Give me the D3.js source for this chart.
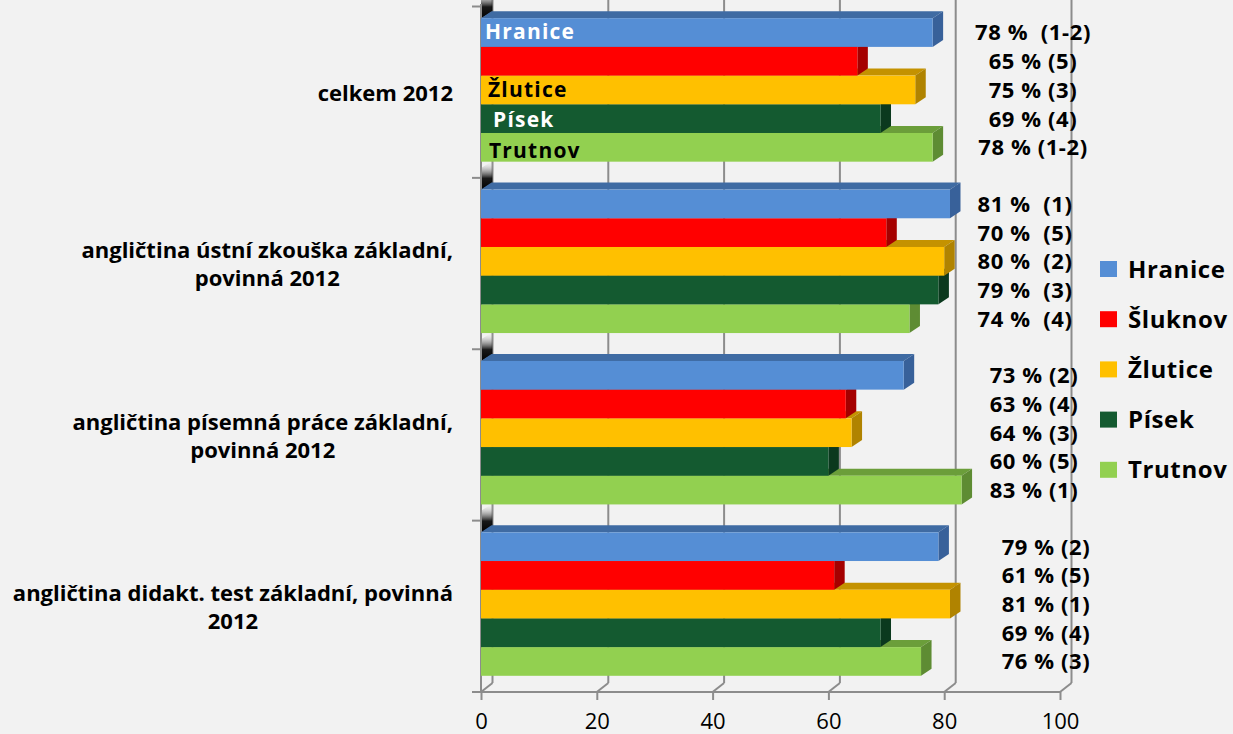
<!DOCTYPE html>
<html>
<head>
<meta charset="utf-8">
<script src="https://cdn.jsdelivr.net/npm/d3@7"></script>
<style>
  html, body { margin: 0; padding: 0; background: #f2f2f2; }
  svg { display: block; }
  text { font-family: "Open Sans", "DejaVu Sans", sans-serif; font-weight: bold; fill: #000; }
</style>
</head>
<body>
<svg id="chart" width="1233" height="734"></svg>
<script>
// ---------------- data ----------------
const categories = [
  "celkem 2012",
  "angličtina ústní zkouška základní, povinná 2012",
  "angličtina písemná práce základní, povinná 2012",
  "angličtina didakt. test základní, povinná 2012"
];
const categoryLines = [
  ["celkem 2012"],
  ["angličtina ústní zkouška základní,", "povinná 2012"],
  ["angličtina písemná práce základní,", "povinná 2012"],
  ["angličtina didakt. test základní, povinná", "2012"]
];
const seriesNames = ["Hranice", "Šluknov", "Žlutice", "Písek", "Trutnov"];
const hraniceValues = [78, 81, 73, 79];
const sluknovValues = [65, 70, 63, 61];
const zluticeValues = [75, 80, 64, 81];
const pisekValues   = [69, 79, 60, 69];
const trutnovValues = [78, 74, 83, 76];
const hraniceLabels = ["78 %  (1-2)", "81 %  (1)", "73 % (2)", "79 % (2)"];
const sluknovLabels = ["65 % (5)", "70 %  (5)", "63 % (4)", "61 % (5)"];
const zluticeLabels = ["75 % (3)", "80 %  (2)", "64 % (3)", "81 % (1)"];
const pisekLabels   = ["69 % (4)", "79 %  (3)", "60 % (5)", "69 % (4)"];
const trutnovLabels = ["78 % (1-2)", "74 %  (4)", "83 % (1)", "76 % (3)"];
const inBarNames = ["Hranice", "", "Žlutice", "Písek", "Trutnov"]; // shown inside bars of first category
const xTicks = [0, 20, 40, 60, 80, 100];

// ---------------- styles ----------------
const colors = {
  "Hranice": { front: "#558ed5", top: "#3f6ba3", side: "#38619a" },
  "Šluknov": { front: "#ff0000", top: "#b80000", side: "#a50000" },
  "Žlutice": { front: "#ffc000", top: "#c49200", side: "#b08300" },
  "Písek":   { front: "#145a30", top: "#0e4224", side: "#0b391e" },
  "Trutnov": { front: "#92d050", top: "#6b9e3a", side: "#5e8c33" }
};
const inBarColors = ["#ffffff", "#ffffff", "#000000", "#ffffff", "#000000"];
const inBarDx = [4, 4, 7, 12, 8];
const inBarDy = [6, 6, 7, 8, 11];

const valuesBySeries = [hraniceValues, sluknovValues, zluticeValues, pisekValues, trutnovValues];
const labelsBySeries = [hraniceLabels, sluknovLabels, zluticeLabels, pisekLabels, trutnovLabels];

// ---------------- layout ----------------
const svg = d3.select("#chart");
const x = d3.scaleLinear().domain([0, 100]).range([481, 1060]);
const y0 = d3.scaleBand().domain(categories).range([6.5, 692]).padding(0);
const bw = y0.bandwidth();
const y1 = d3.scaleBand().domain(seriesNames).range([11.7, bw - 16.2]).padding(0);
const wallD = { dx: 11.5, dy: -9 };
const barD = { dx: 10.5, dy: -7 };
const floorY = 692;
const gridColor = "#8c8c8c";
const labelCenterX = [1033, 1025, 1034, 1046];

// back wall gridlines
const g = svg.append("g");
xTicks.forEach(t => {
  const xf = x(t);
  g.append("line").attr("x1", xf + wallD.dx).attr("x2", xf + wallD.dx)
    .attr("y1", -20).attr("y2", floorY + wallD.dy)
    .attr("stroke", gridColor).attr("stroke-width", 2);
  g.append("line").attr("x1", xf).attr("y1", floorY)
    .attr("x2", xf + wallD.dx).attr("y2", floorY + wallD.dy)
    .attr("stroke", gridColor).attr("stroke-width", 2);
});

// left wall shading at category boundaries
const defs = svg.append("defs");
const grad = defs.append("linearGradient").attr("id", "wallShade")
  .attr("x1", 0).attr("y1", 0).attr("x2", 0).attr("y2", 1);
grad.append("stop").attr("offset", "0%").attr("stop-color", "#f2f2f2").attr("stop-opacity", 0);
grad.append("stop").attr("offset", "60%").attr("stop-color", "#000").attr("stop-opacity", 0.9);
grad.append("stop").attr("offset", "100%").attr("stop-color", "#000").attr("stop-opacity", 1);
categories.forEach(c => {
  const b = y0(c);
  const x0 = x(0);
  g.append("path")
    .attr("d", `M${x0},${b - 10} L${x0 + wallD.dx},${b - 17} L${x0 + wallD.dx},${b + 5} L${x0},${b + 12} Z`)
    .attr("fill", "url(#wallShade)");
});

// axes: front floor line + ticks
const xAxis = d3.axisBottom(x).tickValues(xTicks).tickSize(8).tickPadding(13).tickFormat(d3.format("d"));
const ax = svg.append("g").attr("transform", `translate(0,${floorY})`).call(xAxis);
ax.select(".domain").attr("d", `M${x(0) - 8},0H${x(100)}`).attr("stroke", gridColor).attr("stroke-width", 2);
ax.selectAll(".tick line").attr("stroke", gridColor).attr("stroke-width", 2);
ax.selectAll(".tick text").style("font-family", "'Open Sans', sans-serif").style("font-weight", "normal")
  .style("font-size", "22px").attr("fill", "#000");

// left axis (category) with ticks at boundaries
const yAxisG = svg.append("g");
yAxisG.append("line").attr("x1", x(0)).attr("x2", x(0)).attr("y1", 4).attr("y2", floorY)
  .attr("stroke", gridColor).attr("stroke-width", 2);
categories.concat(["__end"]).forEach((c, i) => {
  const yy = i < categories.length ? y0(c) : floorY;
  yAxisG.append("line").attr("x1", x(0) - 9).attr("x2", x(0)).attr("y1", yy).attr("y2", yy)
    .attr("stroke", gridColor).attr("stroke-width", 2);
});

// bars
const bars = svg.append("g");
categories.forEach((c, ci) => {
  for (let si = seriesNames.length - 1; si >= 0; si--) {
    const s = seriesNames[si];
    const v = valuesBySeries[si][ci];
    const top = y0(c) + y1(s);
    const h = y1.bandwidth();
    const x0 = x(0), x1 = x(v);
    const col = colors[s];
    bars.append("path")
      .attr("d", `M${x0},${top} L${x0 + barD.dx},${top + barD.dy} L${x1 + barD.dx},${top + barD.dy} L${x1},${top} Z`)
      .attr("fill", col.top);
    bars.append("path")
      .attr("d", `M${x1},${top} L${x1 + barD.dx},${top + barD.dy} L${x1 + barD.dx},${top + h + barD.dy} L${x1},${top + h} Z`)
      .attr("fill", col.side);
    bars.append("rect").attr("x", x0).attr("y", top).attr("width", x1 - x0).attr("height", h)
      .attr("fill", col.front);
  }
});

// names inside the bars of the first category
inBarNames.forEach((n, si) => {
  if (!n) return;
  const s = seriesNames[si];
  svg.append("text")
    .attr("x", x(0) + inBarDx[si])
    .attr("y", y0(categories[0]) + y1(s) + y1.bandwidth() / 2 + inBarDy[si])
    .style("fill", inBarColors[si])
    .style("font-size", "21px")
    .style("letter-spacing", "1.2px")
    .text(n);
});

// data labels
categories.forEach((c, ci) => {
  seriesNames.forEach((s, si) => {
    svg.append("text")
      .attr("x", labelCenterX[ci])
      .attr("y", y0(c) + y1(s) + y1.bandwidth() / 2)
      .attr("dy", "0.36em")
      .attr("text-anchor", "middle")
      .style("font-size", "22px")
      .style("letter-spacing", "0.6px")
      .style("white-space", "pre")
      .text(labelsBySeries[si][ci]);
  });
});

// category labels (block right-aligned, lines centred in block)
const lineH = 28;
categoryLines.forEach((lines, ci) => {
  const cy = y0(categories[ci]) + bw / 2 + 1;
  const grp = svg.append("g");
  const ts = lines.map((l, li) => grp.append("text")
    .style("font-size", "22px")
    .attr("y", cy + (li - (lines.length - 1) / 2) * lineH)
    .attr("dy", "0.35em")
    .attr("text-anchor", "middle")
    .text(l));
  const maxW = d3.max(ts, t => t.node().getComputedTextLength());
  const right = 453;
  ts.forEach(t => t.attr("x", right - maxW / 2));
});

// legend
const legend = svg.append("g");
seriesNames.forEach((s, i) => {
  const ly = 269 + i * 50.2;
  legend.append("rect").attr("x", 1100).attr("y", ly - 8).attr("width", 17).attr("height", 16)
    .attr("fill", colors[s].front);
  legend.append("text").attr("x", 1128).attr("y", ly).attr("dy", "0.36em")
    .style("font-size", "24px").style("letter-spacing", "0.6px").text(s);
});
</script>
</body>
</html>
